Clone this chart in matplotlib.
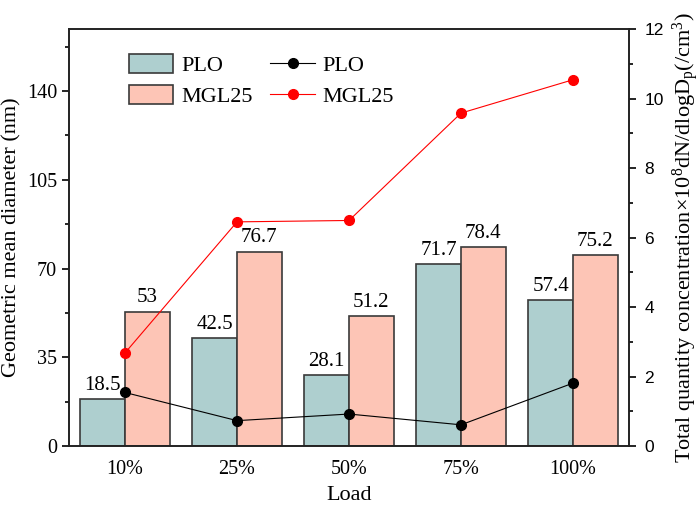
import matplotlib
matplotlib.use("Agg")
import matplotlib.pyplot as plt
import numpy as np
from matplotlib.ticker import MultipleLocator

categories = ["10%", "25%", "50%", "75%", "100%"]
plo_diam = [18.5, 42.5, 28.1, 71.7, 57.4]
mgl_diam = [53, 76.7, 51.2, 78.4, 75.2]
plo_conc = [1.54, 0.73, 0.92, 0.61, 1.81]
mgl_conc = [2.68, 6.45, 6.49, 9.58, 10.54]

serif = "Liberation Serif"
sans = "Liberation Sans"
plt.rcParams["mathtext.fontset"] = "custom"
plt.rcParams["mathtext.rm"] = serif
plt.rcParams["mathtext.it"] = serif + ":italic"
plt.rcParams["mathtext.bf"] = serif + ":bold"

c_plo = "#aecfcf"
c_mgl = "#fdc5b6"
edge = "#3a3a3a"

fig = plt.figure(figsize=(7.0, 5.07), dpi=100)
ax = fig.add_axes([0.0986, 0.1203, 0.8, 0.8225])
x = np.arange(len(categories))
w = 0.4
b1 = ax.bar(x - w/2, plo_diam, w, color=c_plo, edgecolor=edge, linewidth=1.2, label="PLO")
b2 = ax.bar(x + w/2, mgl_diam, w, color=c_mgl, edgecolor=edge, linewidth=1.2, label="MGL25")
for xi, v in zip(x - w/2, plo_diam):
    ax.annotate(f"{v:g}", (xi, v), xytext=(0, 3), textcoords="offset points",
                ha="center", va="bottom", fontsize=15, family=serif)
for xi, v in zip(x + w/2, mgl_diam):
    ax.annotate(f"{v:g}", (xi, v), xytext=(0, 3), textcoords="offset points",
                ha="center", va="bottom", fontsize=15, family=serif)

ax.set_xlim(-0.5, 4.5)
ax.set_ylim(0, 164.5)
ax.set_xticks(x)
ax.set_xticklabels(categories, family=serif, fontsize=14.5)
ax.tick_params(axis="x", length=0, pad=10)
ax.yaxis.set_major_locator(MultipleLocator(35))
ax.yaxis.set_minor_locator(MultipleLocator(17.5))
ax.tick_params(axis="y", which="major", direction="out", length=5, width=1.2, labelsize=14.5)
ax.tick_params(axis="y", which="minor", direction="out", length=3, width=1.2)
for lab in ax.get_yticklabels():
    lab.set_family(serif)
ax.set_ylabel("Geometric mean diameter (nm)", family=serif, fontsize=16, labelpad=4)
ax.set_xlabel("Load", family=serif, fontsize=16, labelpad=5)
for s in ax.spines.values():
    s.set_linewidth(1.2)
    s.set_color("#222222")

ax2 = ax.twinx()
l1, = ax2.plot(x, plo_conc, color="black", lw=0.8, marker="o", ms=7, label="PLO")
l2, = ax2.plot(x, mgl_conc, color="red", lw=0.8, marker="o", ms=7, label="MGL25")
ax2.set_ylim(0, 12)
ax2.yaxis.set_major_locator(MultipleLocator(2))
ax2.yaxis.set_minor_locator(MultipleLocator(1))
ax2.tick_params(axis="y", which="major", direction="out", length=5, width=1.2, labelsize=12.5, pad=6)
ax2.tick_params(axis="y", which="minor", direction="out", length=3, width=1.2)
for lab in ax2.get_yticklabels():
    lab.set_family(sans)
ax2.set_ylabel(r"Total quantity concentration$\times$10$^{8}$dN/dlogD$_{\mathrm{p}}$(/cm$^{3}$)",
               family=serif, fontsize=16, labelpad=5)
for s in ax2.spines.values():
    s.set_linewidth(1.2)
    s.set_color("#222222")

leg = ax2.legend([b1, b2, l1, l2], ["PLO", "MGL25", "PLO", "MGL25"], ncol=2,
                 loc="upper left", bbox_to_anchor=(0.107, 0.94), frameon=False,
                 borderpad=0, borderaxespad=0,
                 prop={"family": serif, "size": 16}, handlelength=2.0, handleheight=0.95,
                 columnspacing=0.8, labelspacing=0.4, handletextpad=0.35)

fig.savefig("out.png", dpi=100)
